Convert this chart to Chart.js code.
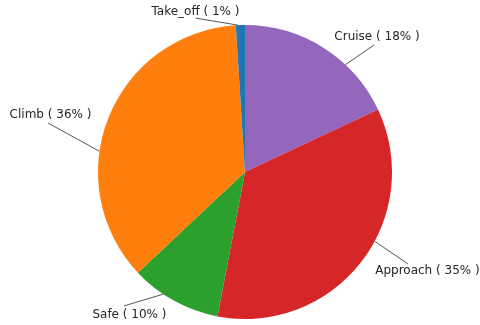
<!DOCTYPE html>
<html>
<head>
<meta charset="utf-8">
<script src="https://cdn.jsdelivr.net/npm/chart.js@4/dist/chart.umd.min.js"></script>
<style>
  html, body { margin: 0; padding: 0; background: #ffffff; }
  #wrap { width: 480px; height: 325px; position: relative; }
</style>
</head>
<body>
<div id="wrap"><canvas id="chart" width="480" height="325"></canvas></div>
<script>
// Flight phases, listed clockwise from 12 o'clock
const phases = ['Cruise', 'Approach', 'Safe', 'Climb', 'Take_off'];
const shares = [18, 35, 10, 36, 1];
const colors = ['#9467bd', '#d62728', '#2ca02c', '#ff7f0e', '#1f77b4'];

// Callout placement per phase: angle (deg, counter-clockwise from 3 o'clock)
// where the leader touches the rim, text centre in radius units from the pie
// centre, and where the leader leaves the text (px from text centre).
const callouts = {
  Take_off: { rim: 92.7, tx: -0.337, ty: -1.088, lx: 0, ly: 6 },
  Cruise:   { rim: 46.9, tx: 0.898, ty: -0.918, lx: -3, ly: 8 },
  Climb:    { rim: 171.9, tx: -1.323, ty: -0.391, lx: -2.5, ly: 8.5 },
  Approach: { rim: 331.9, tx: 1.241, ty: 0.673, lx: -19.5, ly: -7 },
  Safe:     { rim: 236.2, tx: -0.786, ty: 0.969, lx: -5.5, ly: -8.5 }
};

const calloutPlugin = {
  id: 'callouts',
  afterDatasetsDraw(chart) {
    const arc = chart.getDatasetMeta(0).data[0];
    if (!arc) return;
    const cx = arc.x, cy = arc.y, r = arc.outerRadius;
    const ctx = chart.ctx;
    ctx.save();
    ctx.font = '12px "DejaVu Sans"';
    ctx.textAlign = 'center';
    ctx.textBaseline = 'middle';
    phases.forEach((name, i) => {
      const c = callouts[name];
      const a = c.rim * Math.PI / 180;
      const ex = cx + r * Math.cos(a);
      const ey = cy - r * Math.sin(a);
      const tx = cx + c.tx * r;
      const ty = cy + c.ty * r;
      ctx.strokeStyle = '#555555';
      ctx.lineWidth = 1;
      ctx.beginPath();
      ctx.moveTo(tx + c.lx, ty + c.ly);
      ctx.lineTo(ex, ey);
      ctx.stroke();
      ctx.fillStyle = '#262626';
      ctx.fillText(name + ' ( ' + shares[i] + '% )', tx, ty);
    });
    ctx.restore();
  }
};

new Chart(document.getElementById('chart'), {
  type: 'pie',
  data: {
    labels: phases,
    datasets: [{
      data: shares,
      backgroundColor: colors,
      borderWidth: 0
    }]
  },
  options: {
    responsive: false,
    animation: false,
    rotation: 0,
    layout: { padding: { top: 25, bottom: 6, left: 10, right: 0 } },
    plugins: {
      legend: { display: false },
      tooltip: { enabled: false }
    }
  },
  plugins: [calloutPlugin]
});
</script>
</body>
</html>
